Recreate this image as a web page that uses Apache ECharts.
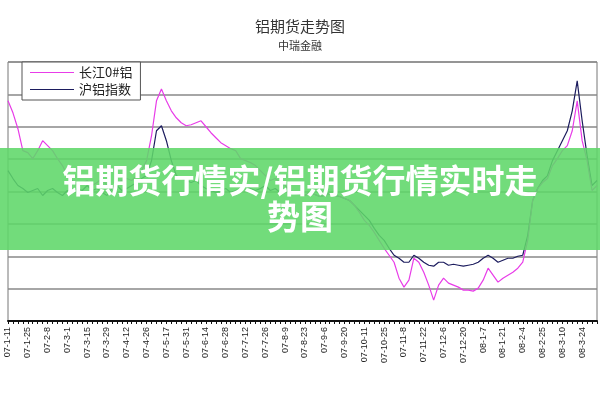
<!DOCTYPE html>
<html><head><meta charset="utf-8">
<script src="https://cdn.jsdelivr.net/npm/echarts@6/dist/echarts.min.js"></script>
<style>html,body{margin:0;padding:0;background:#fff}#c{width:600px;height:400px}</style>
</head><body><div id="c"></div>
<script>
const tickLabels = ['07-1-11','07-1-25','07-2-8','07-3-1','07-3-15','07-3-29','07-4-12','07-4-26','07-5-17','07-5-31','07-6-14','07-6-28','07-7-12','07-7-26','07-8-9','07-8-23','07-9-6','07-9-20','07-10-11','07-10-25','07-11-8','07-11-22','07-12-6','07-12-20','08-1-7','08-1-21','08-2-4','08-2-25','08-3-10','08-3-24'];
const changjiang = [221,209,193,171,169,163,171,181,176,171,163,156,146,141,136,138,141,136,139,143,136,133,138,141,143,141,146,151,161,186,221,233,221,211,204,199,196,197,199,201,195,189,184,179,176,173,171,163,161,159,156,151,146,141,143,139,136,131,129,128,126,129,127,125,126,128,126,125,123,121,116,109,101,96,89,81,73,66,59,43,34,41,63,59,49,36,21,36,43,38,36,34,31,31,30,33,41,53,46,39,43,46,49,53,59,81,121,133,139,143,156,163,171,176,191,221,181,161,131,136];
const hulv = [151,143,136,133,129,131,133,126,131,133,129,126,131,129,133,131,136,131,133,129,126,133,136,131,133,136,139,143,146,161,191,196,181,161,146,143,141,139,141,136,133,131,129,131,133,129,131,133,136,133,131,133,136,131,133,129,131,129,128,127,126,129,127,125,126,128,126,125,123,121,116,111,106,101,93,86,81,73,66,63,59,59,66,63,59,56,55,59,59,56,57,56,55,56,57,59,63,66,63,59,61,63,63,65,66,86,121,133,141,146,161,171,181,191,211,241,201,166,136,141];
const days = [];
for (let i = 0; i < changjiang.length; i++) {
  const k = Math.floor(i / 4);
  days.push(i % 4 === 0 ? tickLabels[k] : tickLabels[k] + '#' + (i % 4));
}
const chart = echarts.init(document.getElementById('c'));
chart.setOption({
  animation: false,
  backgroundColor: '#fff',
  title: {text: '铝期货走势图', subtext: '中瑞金融', left: 'center', top: 14, itemGap: 6,
    textStyle: {fontSize: 15, fontWeight: 'normal', color: '#333', fontFamily: 'Noto Sans CJK SC'},
    subtextStyle: {fontSize: 11, color: '#333', fontFamily: 'Noto Sans CJK SC'}},
  legend: {orient: 'vertical', left: 22, top: 62, itemGap: 4, itemWidth: 44, itemHeight: 8,
    backgroundColor: '#fff', borderColor: '#555', borderWidth: 1, padding: [4, 8],
    textStyle: {fontSize: 13, color: '#222', fontFamily: 'Noto Sans CJK SC'},
    data: [{name: '长江0#铝', icon: 'path://M0,4L40,4L40,5L0,5Z'}, {name: '沪铝指数', icon: 'path://M0,4L40,4L40,5L0,5Z'}]},
  grid: {left: 8, right: 3, top: 62, bottom: 79, show: true, borderColor: '#777', borderWidth: 1},
  xAxis: {type: 'category', data: days, boundaryGap: false,
    axisLine: {lineStyle: {color: '#111', width: 2}},
    axisTick: {show: true, interval: 0, length: 3, lineStyle: {color: '#111'}},
    axisLabel: {interval: 3, rotate: 90, fontSize: 9, color: '#222', margin: 6,
      formatter: v => v.indexOf('#') < 0 ? v : ''}},
  yAxis: {type: 'value', min: 0, max: 260, interval: 32.5,
    axisLabel: {show: false}, axisLine: {show: false}, axisTick: {show: false},
    splitLine: {lineStyle: {color: '#888', width: 1.5}}},
  series: [
    {name: '沪铝指数', type: 'line', data: hulv, symbol: 'none', lineStyle: {color: '#1c1c5e', width: 1.2}, itemStyle: {color: '#1c1c5e'}, z: 2},
    {name: '长江0#铝', type: 'line', data: changjiang, symbol: 'none', lineStyle: {color: '#e83ce8', width: 1.2}, itemStyle: {color: '#e83ce8'}, z: 3}
  ],
  graphic: [
    {type: 'rect', left: 0, top: 148, shape: {width: 600, height: 102}, style: {fill: 'rgba(95,215,105,0.88)'}, z: 100},
    {type: 'text', left: 'center', top: 164, style: {text: '铝期货行情实/铝期货行情实时走', fill: '#fff', fontSize: 33, fontWeight: 'bold', fontFamily: 'Noto Sans CJK SC'}, z: 101},
    {type: 'text', left: 'center', top: 200, style: {text: '势图', fill: '#fff', fontSize: 33, fontWeight: 'bold', fontFamily: 'Noto Sans CJK SC'}, z: 101}
  ]
});
</script></body></html>
